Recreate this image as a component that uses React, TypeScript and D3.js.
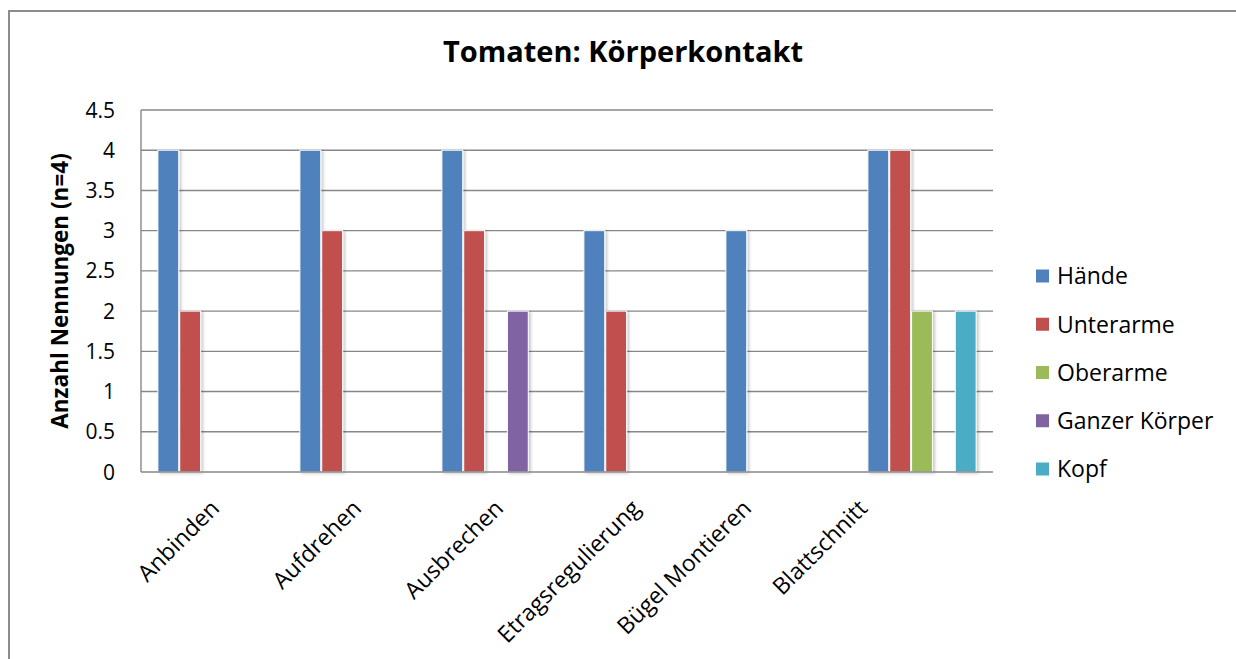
import React from "react";
import * as d3 from "d3";

const categories = ["Anbinden", "Aufdrehen", "Ausbrechen", "Etragsregulierung", "Bügel Montieren", "Blattschnitt"];
const seriesNames = ["Hände", "Unterarme", "Oberarme", "Ganzer Körper", "Kopf"];
const haende = [4, 4, 4, 3, 3, 4];
const unterarme = [2, 3, 3, 2, 0, 4];
const oberarme = [0, 0, 0, 0, 0, 2];
const ganzerKoerper = [0, 0, 2, 0, 0, 0];
const kopf = [0, 0, 0, 0, 0, 2];
const yTicks = [0, 0.5, 1, 1.5, 2, 2.5, 3, 3.5, 4, 4.5];
const colors = ["#4F81BD", "#C0504D", "#9BBB59", "#8064A2", "#4BACC6"];

const seriesValues = [haende, unterarme, oberarme, ganzerKoerper, kopf];
// horizontal nudges of the rotated category labels (layout, not data)
const labelNudge = [3, 3, 3, -2, -33, -59];

const W = 1236, H = 659;
const plot = { left: 141, right: 993, top: 110, bottom: 472 };
const FONT = "'Open Sans', Lato, sans-serif";

export default function App() {
  const x0 = d3.scaleBand<string>().domain(categories).range([plot.left, plot.right]).paddingInner(0).paddingOuter(0);
  const bw = x0.bandwidth();
  const gap = 1.5;
  const barW = bw / (seriesNames.length + gap);
  const x1 = d3.scaleBand<string>().domain(seriesNames).range([barW * gap / 2, bw - barW * gap / 2]).padding(0);
  const y = d3.scaleLinear().domain([0, 4.5]).range([plot.bottom, plot.top]);

  const legendY = d3.scalePoint<string>().domain(seriesNames).range([276, 469]);

  return (
    <svg width={W} height={H} style={{ position: "absolute", left: 0, top: 0, background: "#fff", overflow: "hidden" }} fontFamily={FONT}>
      <defs>
        <filter id="sh" x="-30%" y="-10%" width="160%" height="120%">
          <feDropShadow dx="2" dy="1" stdDeviation="1.5" floodColor="#000" floodOpacity="0.22" />
        </filter>
      </defs>
      <path d={`M9,${H + 5}V11H${W + 5}`} fill="none" stroke="#8c8c8c" strokeWidth={2} />
      <text x={623} y={62} textAnchor="middle" fontWeight="bold" fontSize={29} fill="#000">Tomaten: Körperkontakt</text>

      {yTicks.map((t) => (
        <g key={t}>
          {t > 0 && <line x1={plot.left} x2={plot.right} y1={y(t)} y2={y(t)} stroke="#878787" strokeWidth={1.4} />}
          <text x={115} y={y(t)} dy="0.36em" textAnchor="end" fontSize={21} fill="#000">{t}</text>
        </g>
      ))}
      <line x1={plot.left} x2={plot.left} y1={plot.top} y2={plot.bottom} stroke="#878787" strokeWidth={1.4} />

      {categories.map((c, i) => (
        <g key={c} transform={`translate(${x0(c)},0)`}>
          {seriesNames.map((s, j) => {
            const v = seriesValues[j][i];
            if (!v) return null;
            return (
              <rect key={s} x={x1(s)! + 0.5} y={y(v)} width={x1.bandwidth() - 1} height={plot.bottom - y(v)}
                fill={colors[j]} stroke="#fff" strokeWidth={1} filter="url(#sh)" />
            );
          })}
        </g>
      ))}
      <line x1={plot.left} x2={plot.right} y1={plot.bottom} y2={plot.bottom} stroke="#878787" strokeWidth={1.6} />

      {categories.map((c, i) => {
        const cx = x0(c)! + bw / 2 + labelNudge[i];
        return (
          <text key={c} transform={`translate(${cx},504) rotate(-45)`} textAnchor="end" dy="0.35em" fontSize={23} fill="#000">{c}</text>
        );
      })}

      <text transform={`translate(60,${(plot.top + plot.bottom) / 2}) rotate(-90)`} textAnchor="middle" dy="0.35em" fontWeight="bold" fontSize={22.5} fill="#000">Anzahl Nennungen (n=4)</text>

      {seriesNames.map((s, j) => (
        <g key={s} transform={`translate(1036,${legendY(s)})`}>
          <rect x={0} y={-6.5} width={13} height={13} fill={colors[j]} />
          <text x={21} y={0} dy="0.36em" fontSize={23} fill="#000">{s}</text>
        </g>
      ))}
    </svg>
  );
}
